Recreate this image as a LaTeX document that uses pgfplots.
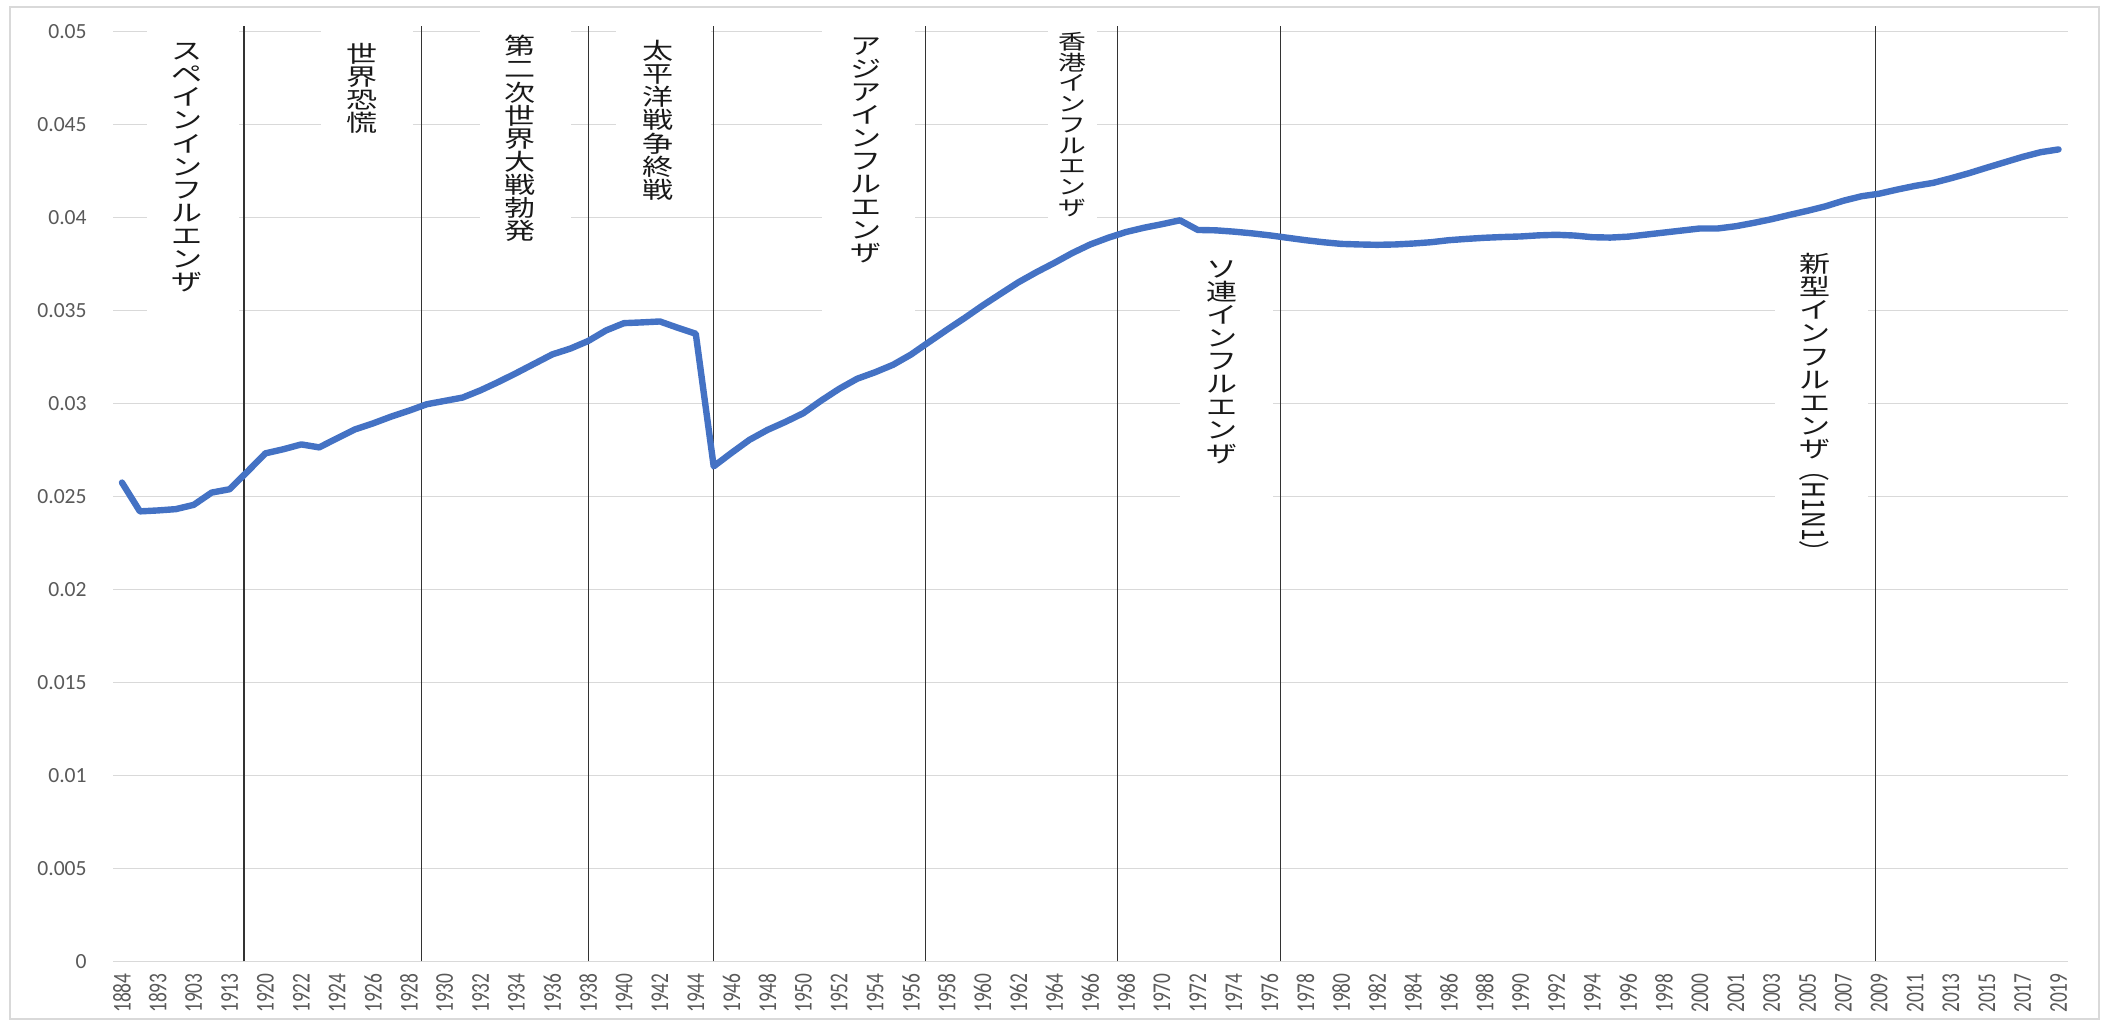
\documentclass[border=0pt]{standalone}
\usepackage{fontspec}
\setmainfont{Carlito}
\newfontfamily\cjk{Noto Sans CJK JP}
\usepackage{graphicx}
\usepackage{pgfplots}
\pgfplotsset{compat=1.18}
\usepackage{pgfplotstable}

\definecolor{lineblue}{HTML}{4472C4}
\definecolor{gridgray}{HTML}{D9D9D9}
\definecolor{ticktext}{HTML}{595959}

% one upright character of a vertical caption (slightly widened glyphs)
\newcommand\vchar[1]{\hbox to 17pt{\hss\scalebox{1.35}[1]{#1}\hss}}
\ExplSyntaxOn
% stack the characters of #2 top to bottom; #3 (optional) is a rotated tail
\NewDocumentCommand\vstack{O{11.55pt} m o}{
  \vbox{
    \baselineskip=#1\relax
    \lineskiplimit=-\maxdimen
    \tl_map_inline:nn {#2} { \vchar{##1} }
    \IfValueT{#3}{ \nointerlineskip \vchar{#3} }
  }
}
\ExplSyntaxOff

% white caption panel, given in picture pixels (x1,y1)-(x2,y2), y from the top
\newcommand\capbox[4]{\fill[white] ({(#1-122)/17.935},{(961.5-#2)/18600}) rectangle ({(#3-122)/17.935},{(961.5-#4)/18600});}
% caption text centred at pixel x=#1, glyph top at pixel y=#2
\newcommand\captext[4][11.5pt]{\node[anchor=north, inner sep=0pt, text=black!90,
    font=\cjk\fontsize{#1}{#1}\selectfont] at ({(#2-122)/17.935},{(961.5-#3)/18600}) {#4};}
\newcommand\eventline[1]{\draw[black!80, line width=0.65pt] (#1,0) -- (#1,0.0503);}

% share by category position (0 = 1884 ... 108 = 2019)
\pgfplotstableread{
idx value
0 0.02575
1 0.02420
2 0.02425
3 0.02432
4 0.02455
5 0.02521
6 0.02539
7 0.02634
8 0.02732
9 0.02754
10 0.02780
11 0.02764
12 0.02813
13 0.02861
14 0.02893
15 0.02929
16 0.02961
17 0.02996
18 0.03014
19 0.03032
20 0.03071
21 0.03116
22 0.03164
23 0.03214
24 0.03264
25 0.03295
26 0.03336
27 0.03393
28 0.03432
29 0.03436
30 0.03441
31 0.03407
32 0.03375
33 0.02662
34 0.02735
35 0.02805
36 0.02858
37 0.02901
38 0.02948
39 0.03016
40 0.03079
41 0.03133
42 0.03168
43 0.03208
44 0.03263
45 0.03330
46 0.03396
47 0.03460
48 0.03527
49 0.03590
50 0.03652
51 0.03706
52 0.03756
53 0.03809
54 0.03855
55 0.03891
56 0.03922
57 0.03945
58 0.03964
59 0.03985
60 0.03933
61 0.03931
62 0.03924
63 0.03915
64 0.03904
65 0.03891
66 0.03878
67 0.03867
68 0.03858
69 0.03855
70 0.03853
71 0.03855
72 0.03860
73 0.03867
74 0.03878
75 0.03885
76 0.03891
77 0.03895
78 0.03898
79 0.03904
80 0.03907
81 0.03903
82 0.03894
83 0.03892
84 0.03897
85 0.03908
86 0.03919
87 0.03930
88 0.03941
89 0.03941
90 0.03953
91 0.03971
92 0.03991
93 0.04014
94 0.04036
95 0.04060
96 0.04090
97 0.04114
98 0.04128
99 0.04150
100 0.04170
101 0.04186
102 0.04211
103 0.04238
104 0.04268
105 0.04297
106 0.04326
107 0.04351
108 0.04366
}\sharetable

\begin{document}
\begin{tikzpicture}[x=1pt,y=1pt]
\path[use as bounding box] (0,0) rectangle (1053.5,511);
\draw[gridgray, line width=0.6pt] (5,1.5) rectangle (1049.5,507.5);
\begin{axis}[
  at={(56.5pt,30.25pt)}, anchor=south west,
  scale only axis, width=977.25pt, height=465pt,
  xmin=-0.5, xmax=108.5, ymin=0, ymax=0.05,
  clip=false,
  axis line style={draw=none},
  major tick length=0pt,
  ymajorgrids,
  major grid style={gridgray, line width=0.7pt},
  ytick={0,0.005,0.01,0.015,0.02,0.025,0.03,0.035,0.04,0.045,0.05},
  yticklabels={0,0.005,0.01,0.015,0.02,0.025,0.03,0.035,0.04,0.045,0.05},
  scaled y ticks=false,
  xtick={0,2,...,108},
  xticklabels={1884,1893,1903,1913,1920,1922,1924,1926,1928,1930,1932,1934,1936,1938,1940,1942,1944,1946,1948,1950,1952,1954,1956,1958,1960,1962,1964,1966,1968,1970,1972,1974,1976,1978,1980,1982,1984,1986,1988,1990,1992,1994,1996,1998,2000,2001,2003,2005,2007,2009,2011,2013,2015,2017,2019},
  yticklabel style={anchor=east, inner sep=0pt, xshift=-13pt,
    font=\fontsize{10.8pt}{12pt}\selectfont, text=ticktext},
  xticklabel style={yshift=-5.75pt, rotate=90, yscale=1.32, anchor=east, inner sep=0pt,
    font=\fontsize{9.7pt}{11pt}\selectfont, text=ticktext},
]
% caption panels hide the gridlines behind the texts
\capbox{147}{28}{239}{330}
\capbox{321}{28}{413}{150}
\capbox{480}{25}{571}{265}
\capbox{616}{25}{711}{210}
\capbox{822}{25}{915}{320}
\capbox{1048}{22}{1097}{225}
\capbox{1180}{240}{1273}{510}
\capbox{1775}{235}{1868}{575}

% events
\eventline{6.8}
\eventline{16.7}
\eventline{26.0}
\eventline{33.0}
\eventline{44.8}
\eventline{55.5}
\eventline{64.6}
\eventline{97.8}

\captext{187}{43}{\vstack{スペインインフルエンザ}}
\captext{362}{43}{\vstack{世界恐慌}}
\captext{520}{35}{\vstack{第二次世界大戦勃発}}
\captext{658}{40}{\vstack{太平洋戦争終戦}}
\captext{866}{37}{\vstack{アジアインフルエンザ}}
\captext[10.3pt]{1073}{32}{\vstack[10.35pt]{香港インフルエンザ}}
\captext{1222}{260}{\vstack{ソ連インフルエンザ}}
\captext{1815}{253}{\vstack{新型インフルエンザ}[\rotatebox{-90}{（H1N1）}]}

\addplot[lineblue, line width=3.2pt, line join=round, line cap=round]
  table[x=idx, y=value] {\sharetable};
\end{axis}
\end{tikzpicture}
\end{document}
